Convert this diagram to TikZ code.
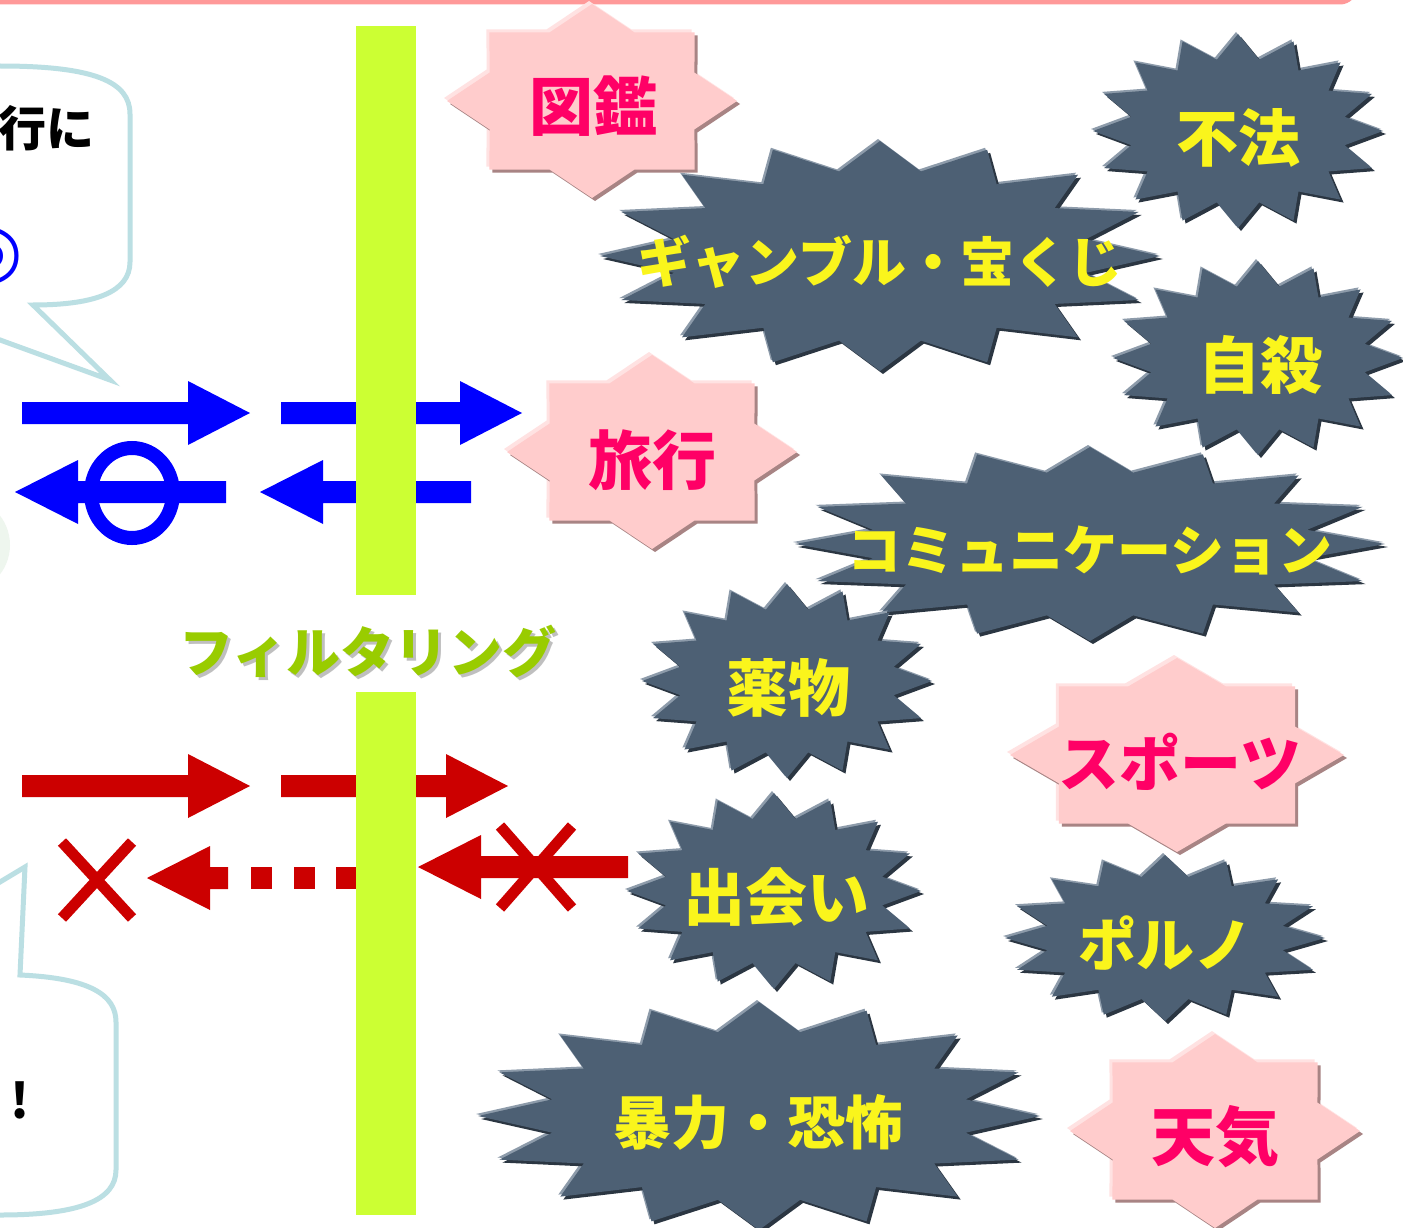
\documentclass[tikz,border=0pt]{standalone}
\usepackage{fontspec}
\newfontfamily\jp{Noto Sans CJK JP}
\newfontfamily\symf{DejaVu Sans}
\definecolor{slate}{HTML}{4D6074}
\definecolor{slatedark}{HTML}{2B3642}
\definecolor{slatelight}{HTML}{8D9BAA}
\definecolor{pinkfill}{HTML}{FFCCCC}
\definecolor{pinkdark}{HTML}{A88484}
\definecolor{pinklight}{HTML}{FFE2E2}
\definecolor{pinktext}{HTML}{FF0066}
\definecolor{yel}{HTML}{FAF51C}
\definecolor{barg}{HTML}{CCFF33}
\definecolor{filtg}{HTML}{99CC00}
\definecolor{bubbleC}{HTML}{BBDFE3}
\definecolor{aRed}{HTML}{CC0000}
\definecolor{aBlue}{HTML}{0000FF}
\definecolor{topline}{HTML}{FF9999}
\definecolor{faintg}{HTML}{EEF6EE}

% 16-point burst (inner ratio .75)
\newcommand\burstpath[4]{plot[samples=33, domain=0:32, variable=\k]
  ({#1+#3*(1-0.25*mod(round(\k),2))*sin(\k*11.25)},
   {#2-#4*(1-0.25*mod(round(\k),2))*cos(\k*11.25)}) -- cycle}
% 8-point star (inner ratio .765)
\newcommand\octpath[4]{plot[samples=17, domain=0:16, variable=\k]
  ({#1+#3*(1-0.235*mod(round(\k),2))*sin(\k*22.5)},
   {#2-#4*(1-0.235*mod(round(\k),2))*cos(\k*22.5)}) -- cycle}

% name, cx, cy, rx, ry, tx, ty, fontsize, text
\newcommand\darkstar[9]{%
  \fill[slatelight, shift={(-2,-2)}] \burstpath{#2}{#3}{#4}{#5};
  \fill[slatedark, shift={(3,3)}] \burstpath{#2}{#3}{#4}{#5};
  \fill[slate] \burstpath{#2}{#3}{#4}{#5};
  \node[startext, font={\jp\fontsize{#8}{#8}\bfseries}] (#1) at (#6,#7) {#9};}
\newcommand\pinkstar[9]{%
  \fill[pinklight, shift={(-3,-3)}] \octpath{#2}{#3}{#4}{#5};
  \fill[pinkdark, shift={(3,3)}] \octpath{#2}{#3}{#4}{#5};
  \fill[pinkfill] \octpath{#2}{#3}{#4}{#5};
  \node[pinktextstyle, font={\jp\fontsize{#8}{#8}\bfseries}] (#1) at (#6,#7) {#9};}
% shaft start, head base, tip, y, colour
\newcommand\barrow[5]{%
  \fill[#5] (#1,#4-11) -- (#2,#4-11) -- (#2,#4-32) -- (#3,#4) -- (#2,#4+32)
    -- (#2,#4+11) -- (#1,#4+11) -- cycle;}

\tikzset{
  startext/.style={text=yel, inner sep=0pt},
  pinktextstyle/.style={text=pinktext, inner sep=0pt},
  bubble/.style={draw=bubbleC, line width=5pt, line join=miter},
  greenbar/.style={fill=barg},
  crossmark/.style={draw=aRed, line width=11pt},
  ring/.style={draw=aBlue, line width=14pt},
}

\begin{document}
\begin{tikzpicture}[x=1pt,y=-1pt]
\useasboundingbox (0,0) rectangle (1403,1228);
\fill[white] (0,0) rectangle (1403,1228);

% top frame edge
\draw[topline, line width=5pt, rounded corners=15pt] (-30,-60) rectangle (1355,2);

% faint circle at left edge
\fill[faintg] (-38,545) circle[radius=48];

% upper speech bubble
\draw[bubble] (-60,66) -- (0,66) .. controls (95,66) and (130,82) .. (130,114)
  -- (130,262) .. controls (130,292) and (95,305) .. (33,305)
  -- (110,380) -- (-96,305) -- (-150,305);
\node[anchor=east, inner sep=0pt, font={\jp\fontsize{48}{48}\bfseries}] (bubbletext) at (95,128) {行に};
\node[inner sep=0pt, text=aBlue, font={\symf\fontsize{74}{74}\bfseries}] (dmark) at (-9,256) {◎};

% lower speech bubble
\draw[bubble] (-40,906) -- (25,867) -- (20,975) .. controls (90,978) and (116,995) .. (116,1022)
  -- (116,1170) .. controls (116,1200) and (80,1215) .. (0,1215) -- (-60,1215);
\node[inner sep=0pt, font={\jp\fontsize{48}{48}\bfseries}] (excl) at (20,1100) {!};

% blue arrows
\barrow{22}{188}{250}{413}{aBlue}
\barrow{281}{460}{522}{413}{aBlue}
\barrow{226}{78}{15}{492}{aBlue}
\draw[ring] (132,493) ellipse[x radius=41, y radius=45];
\barrow{471}{323}{260}{492}{aBlue}

% red arrows
\barrow{22}{188}{250}{786}{aRed}
\barrow{281}{446}{508}{786}{aRed}
\fill[aRed] (228,867) -- (210,867) -- (210,846) -- (147,878) -- (210,910) -- (210,889) -- (228,889) -- cycle;
\fill[aRed] (251,867) rectangle (272,889);
\fill[aRed] (294,867) rectangle (315,889);
\fill[aRed] (336,867) rectangle (360,889);
\draw[crossmark] (62,842) -- (132,918) (62,918) -- (132,842);
\barrow{628}{481}{418}{867}{aRed}
\draw[crossmark] (500,826) -- (572,908) (500,908) -- (572,826);

% filtering bars
\fill[greenbar] (356,26) rectangle (416,595);
\fill[greenbar] (356,692) rectangle (416,1215);
\node[inner sep=0pt, text=black!25, font={\jp\fontsize{54}{54}\bfseries}] (filtshadow) at (371,654) {フィルタリング};
\node[inner sep=0pt, text=filtg, font={\jp\fontsize{54}{54}\bfseries}] (filt) at (368,651) {フィルタリング};

% categories
\darkstar{fuho}{1238}{131}{145}{97}{1238}{138}{62}{不法}
\darkstar{gamble}{880}{256}{280}{115}{880}{262}{54}{ギャンブル・宝くじ}
\darkstar{jisatsu}{1258}{358}{145}{97}{1260}{365}{62}{自殺}
\darkstar{comm}{1090}{544}{295}{97}{1090}{550}{54}{コミュニケーション}
\darkstar{yakubutsu}{787}{681}{145}{97}{788}{688}{62}{薬物}
\darkstar{deai}{774}{891}{147}{98}{776}{897}{62}{出会い}
\darkstar{porno}{1165}{938}{160}{83}{1165}{943}{58}{ポルノ}
\darkstar{boryoku}{759}{1116}{281}{114}{758}{1122}{58}{暴力・恐怖}

\pinkstar{zukan}{592}{101}{145}{97}{593}{106}{64}{図鑑}
\pinkstar{ryoko}{652}{452}{145}{97}{652}{460}{64}{旅行}
\pinkstar{sports}{1177}{755}{167}{97}{1180}{762}{61}{スポーツ}
\pinkstar{tenki}{1215}{1131}{145}{97}{1215}{1137}{64}{天気}
\end{tikzpicture}
\end{document}
